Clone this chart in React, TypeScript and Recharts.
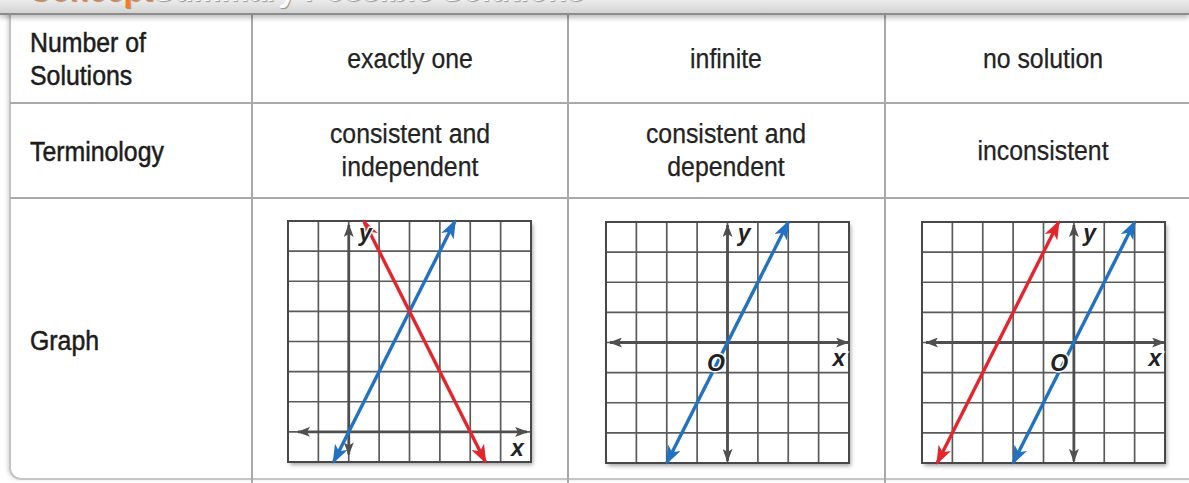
import * as React from "react";
import {
  LineChart, Line, XAxis, YAxis, CartesianGrid, ReferenceArea, ReferenceDot,
} from "recharts";

// table text
const rowHeads = [["Number of", "Solutions"], ["Terminology"], ["Graph"]];
const solutionCounts = ["exactly one", "infinite", "no solution"];
const terminology = [
  ["consistent and", "independent"],
  ["consistent and", "dependent"],
  ["inconsistent"],
];

// graph 1: exactly one
const g1XDomain = [-2, 6];
const g1YDomain = [-1, 7];
const g1XTicks = [-2, -1, 0, 1, 2, 3, 4, 5, 6];
const g1YTicks = [-1, 0, 1, 2, 3, 4, 5, 6, 7];
const g1Blue = [{ x: -0.5, y: -1 }, { x: 3.5, y: 7 }];
const g1Red = [{ x: 0.5, y: 7 }, { x: 4.5, y: -1 }];
const g1AxisX = [{ x: -1.67, y: 0 }, { x: 5.87, y: 0 }];
const g1AxisY = [{ x: 0, y: -0.75 }, { x: 0, y: 6.87 }];

// graph 2: infinite
const g2XDomain = [-4, 4];
const g2YDomain = [-4, 4];
const g2XTicks = [-4, -3, -2, -1, 0, 1, 2, 3, 4];
const g2YTicks = [-4, -3, -2, -1, 0, 1, 2, 3, 4];
const g2Blue = [{ x: -2, y: -4 }, { x: 2, y: 4 }];
const g2AxisX = [{ x: -3.87, y: 0 }, { x: 3.97, y: 0 }];
const g2AxisY = [{ x: 0, y: -3.93 }, { x: 0, y: 3.9 }];

// graph 3: no solution
const g3XDomain = [-5, 3];
const g3YDomain = [-4, 4];
const g3XTicks = [-5, -4, -3, -2, -1, 0, 1, 2, 3];
const g3YTicks = [-4, -3, -2, -1, 0, 1, 2, 3, 4];
const g3Red = [{ x: -4.5, y: -4 }, { x: -0.5, y: 4 }];
const g3Blue = [{ x: -2, y: -4 }, { x: 2, y: 4 }];
const g3AxisX = [{ x: -4.87, y: 0 }, { x: 2.97, y: 0 }];
const g3AxisY = [{ x: 0, y: -3.93 }, { x: 0, y: 3.9 }];

const BLUE = "#2272c3";
const RED = "#e4252e";
const AXIS = "#4f4f4f";
const GRID = "#5a5a5a";
const TEXT = "#232323";
const FONT = '"Liberation Sans", Arial, sans-serif';
const LABEL_FONT = '"Liberation Sans", Arial, sans-serif';

const PLOT_W = 243;
const PLOT_H = 241;
const PAD = 2;

type Pt = { x: number; y: number };
type Lbl = { x: number; y: number; text: string };

interface GraphProps {
  id: string;
  left: number;
  top: number;
  xDomain: number[];
  yDomain: number[];
  xTicks: number[];
  yTicks: number[];
  axisX: Pt[];
  axisY: Pt[];
  lines: { data: Pt[]; color: string; key: string }[];
  labels: Lbl[];
}

const Graph: React.FC<GraphProps> = ({
  id, left, top, xDomain, yDomain, xTicks, yTicks, axisX, axisY, lines, labels,
}) => {
  return (
    <div style={{ position: "absolute", left: left - PAD, top: top - PAD }}>
      <div
        style={{
          position: "absolute", left: PAD, top: PAD, width: PLOT_W, height: PLOT_H,
          boxShadow: "2px 3px 4px rgba(0,0,0,0.35)", background: "#fff",
        }}
      />
      <LineChart
        width={PLOT_W + PAD * 2}
        height={PLOT_H + PAD * 2}
        margin={{ top: PAD, right: PAD, bottom: PAD, left: PAD }}
        style={{ position: "relative" }}
      >
        <defs>
          <marker id={`${id}-blue`} viewBox="0 0 19 14" refX="17" refY="7" markerWidth="19" markerHeight="14" markerUnits="userSpaceOnUse" orient="auto-start-reverse">
            <path d="M0,0 L19,7 L0,14 L5,7 Z" fill={BLUE} />
          </marker>
          <marker id={`${id}-red`} viewBox="0 0 19 14" refX="17" refY="7" markerWidth="19" markerHeight="14" markerUnits="userSpaceOnUse" orient="auto-start-reverse">
            <path d="M0,0 L19,7 L0,14 L5,7 Z" fill={RED} />
          </marker>
          <marker id={`${id}-axis`} viewBox="0 0 13 10" refX="12" refY="5" markerWidth="13" markerHeight="10" markerUnits="userSpaceOnUse" orient="auto-start-reverse">
            <path d="M0,0 L13,5 L0,10 L3,5 Z" fill={AXIS} />
          </marker>
        </defs>
        <XAxis type="number" dataKey="x" domain={xDomain} ticks={xTicks} hide />
        <YAxis type="number" dataKey="y" domain={yDomain} ticks={yTicks} hide />
        <CartesianGrid stroke={GRID} strokeWidth={1.7} />
        <ReferenceArea
          x1={xDomain[0]} x2={xDomain[1]} y1={yDomain[0]} y2={yDomain[1]}
          fill="none" fillOpacity={0} stroke="#484848" strokeWidth={2} strokeOpacity={1}
        />
        <Line
          data={axisX} dataKey="y" stroke={AXIS} strokeWidth={2.8} dot={false}
          isAnimationActive={false} markerStart={`url(#${id}-axis)`} markerEnd={`url(#${id}-axis)`}
        />
        <Line
          data={axisY} dataKey="y" stroke={AXIS} strokeWidth={2.8} dot={false}
          isAnimationActive={false} markerStart={`url(#${id}-axis)`} markerEnd={`url(#${id}-axis)`}
        />
        {labels.map((lb, i) => (
          <ReferenceDot
            key={i}
            x={lb.x}
            y={lb.y}
            r={0}
            shape={(p: any) => (
              <text
                x={p.cx}
                y={p.cy}
                textAnchor="middle"
                dominantBaseline="central"
                fontFamily={LABEL_FONT}
                fontStyle="italic"
                fontWeight="bold"
                fontSize={23}
                fill="#222"
                stroke="#fff"
                strokeWidth={3}
                paintOrder="stroke"
              >
                {lb.text}
              </text>
            )}
          />
        ))}
        {lines.map((l) => (
          <Line
            key={l.key}
            data={l.data}
            dataKey="y"
            stroke={l.color}
            strokeWidth={3.4}
            dot={false}
            isAnimationActive={false}
            markerStart={`url(#${id}-${l.key})`}
            markerEnd={`url(#${id}-${l.key})`}
          />
        ))}
      </LineChart>
    </div>
  );
};

const colX = [10, 252, 568, 885];
const rowY = [15, 103, 198];

const cellText: React.CSSProperties = {
  position: "absolute",
  fontFamily: FONT,
  fontSize: 27,
  lineHeight: "33px",
  color: TEXT,
  textAlign: "center",
  whiteSpace: "nowrap",
  transform: "scaleX(0.92)",
  transformOrigin: "center",
  WebkitTextStroke: "0.25px #232323",
};

const headText: React.CSSProperties = {
  ...cellText,
  left: 30,
  textAlign: "left",
  transformOrigin: "left",
  color: "#1c1c1c",
  WebkitTextStroke: "0.5px #1c1c1c",
};

export default function App() {
  const centers = [410, 726, 1043];
  return (
    <div
      style={{
        position: "absolute", left: 0, top: 0, width: 1189, height: 483,
        overflow: "hidden", background: "#fff",
      }}
    >
      {/* header band, mostly cut off */}
      <div
        style={{
          position: "absolute", left: 0, top: 0, width: 1189, height: 13,
          background: "linear-gradient(#ececec, #d3d3d3)", borderBottom: "2px solid #8c8c8c",
          boxShadow: "0 3px 5px rgba(0,0,0,0.25)", overflow: "hidden", zIndex: 2,
        }}
      >
        <div
          style={{
            position: "absolute", left: 28, top: -28, fontFamily: '"Liberation Sans", Arial, sans-serif',
            fontWeight: "bold", fontSize: 34, lineHeight: "34px", whiteSpace: "nowrap",
            color: "#fafafa", textShadow: "1px 1px 1px rgba(0,0,0,0.35)",
            transform: "scaleX(0.92)", transformOrigin: "left",
          }}
        >
          <span style={{ color: "#f37c22" }}>Concept</span>Summary  Possible Solutions
        </div>
      </div>

      {/* table frame */}
      <div
        style={{
          position: "absolute", left: 9, top: 13, width: 1200, height: 465,
          borderLeft: "2px solid #c4c4c4", borderBottom: "2px solid #c4c4c4",
          borderBottomLeftRadius: 12, boxShadow: "-2px 0 3px rgba(0,0,0,0.12)",
        }}
      />
      {colX.slice(1).map((x) => (
        <div key={x} style={{ position: "absolute", left: x - 1, top: 14, width: 2, height: 470, background: "#a9a9a9" }} />
      ))}
      {rowY.slice(1).map((y) => (
        <div key={y} style={{ position: "absolute", left: 10, top: y - 1, width: 1180, height: 2, background: "#a9a9a9" }} />
      ))}

      {/* row heads */}
      <div style={{ ...headText, top: 27 }}>
        {rowHeads[0][0]}<br />{rowHeads[0][1]}
      </div>
      <div style={{ ...headText, top: 136 }}>{rowHeads[1][0]}</div>
      <div style={{ ...headText, top: 325 }}>{rowHeads[2][0]}</div>

      {solutionCounts.map((s, i) => (
        <div key={s} style={{ ...cellText, left: centers[i] - 150, width: 300, top: 43 }}>{s}</div>
      ))}
      {terminology.map((t, i) => (
        <div key={i} style={{ ...cellText, left: centers[i] - 150, width: 300, top: t.length > 1 ? 118 : 135 }}>
          {t.map((line, j) => (
            <React.Fragment key={j}>{j > 0 && <br />}{line}</React.Fragment>
          ))}
        </div>
      ))}

      <Graph
        id="g1" left={288} top={221}
        xDomain={g1XDomain} yDomain={g1YDomain} xTicks={g1XTicks} yTicks={g1YTicks}
        axisX={g1AxisX} axisY={g1AxisY}
        lines={[{ data: g1Blue, color: BLUE, key: "blue" }, { data: g1Red, color: RED, key: "red" }]}
        labels={[{ x: 0.55, y: 6.6, text: "y" }, { x: 5.55, y: -0.55, text: "x" }]}
      />
      <Graph
        id="g2" left={606} top={222}
        xDomain={g2XDomain} yDomain={g2YDomain} xTicks={g2XTicks} yTicks={g2YTicks}
        axisX={g2AxisX} axisY={g2AxisY}
        lines={[{ data: g2Blue, color: BLUE, key: "blue" }]}
        labels={[{ x: 0.55, y: 3.62, text: "y" }, { x: -0.38, y: -0.67, text: "O" }, { x: 3.67, y: -0.5, text: "x" }]}
      />
      <Graph
        id="g3" left={922} top={222}
        xDomain={g3XDomain} yDomain={g3YDomain} xTicks={g3XTicks} yTicks={g3YTicks}
        axisX={g3AxisX} axisY={g3AxisY}
        lines={[{ data: g3Red, color: RED, key: "red" }, { data: g3Blue, color: BLUE, key: "blue" }]}
        labels={[{ x: 0.52, y: 3.62, text: "y" }, { x: -0.48, y: -0.67, text: "O" }, { x: 2.67, y: -0.5, text: "x" }]}
      />
    </div>
  );
}
